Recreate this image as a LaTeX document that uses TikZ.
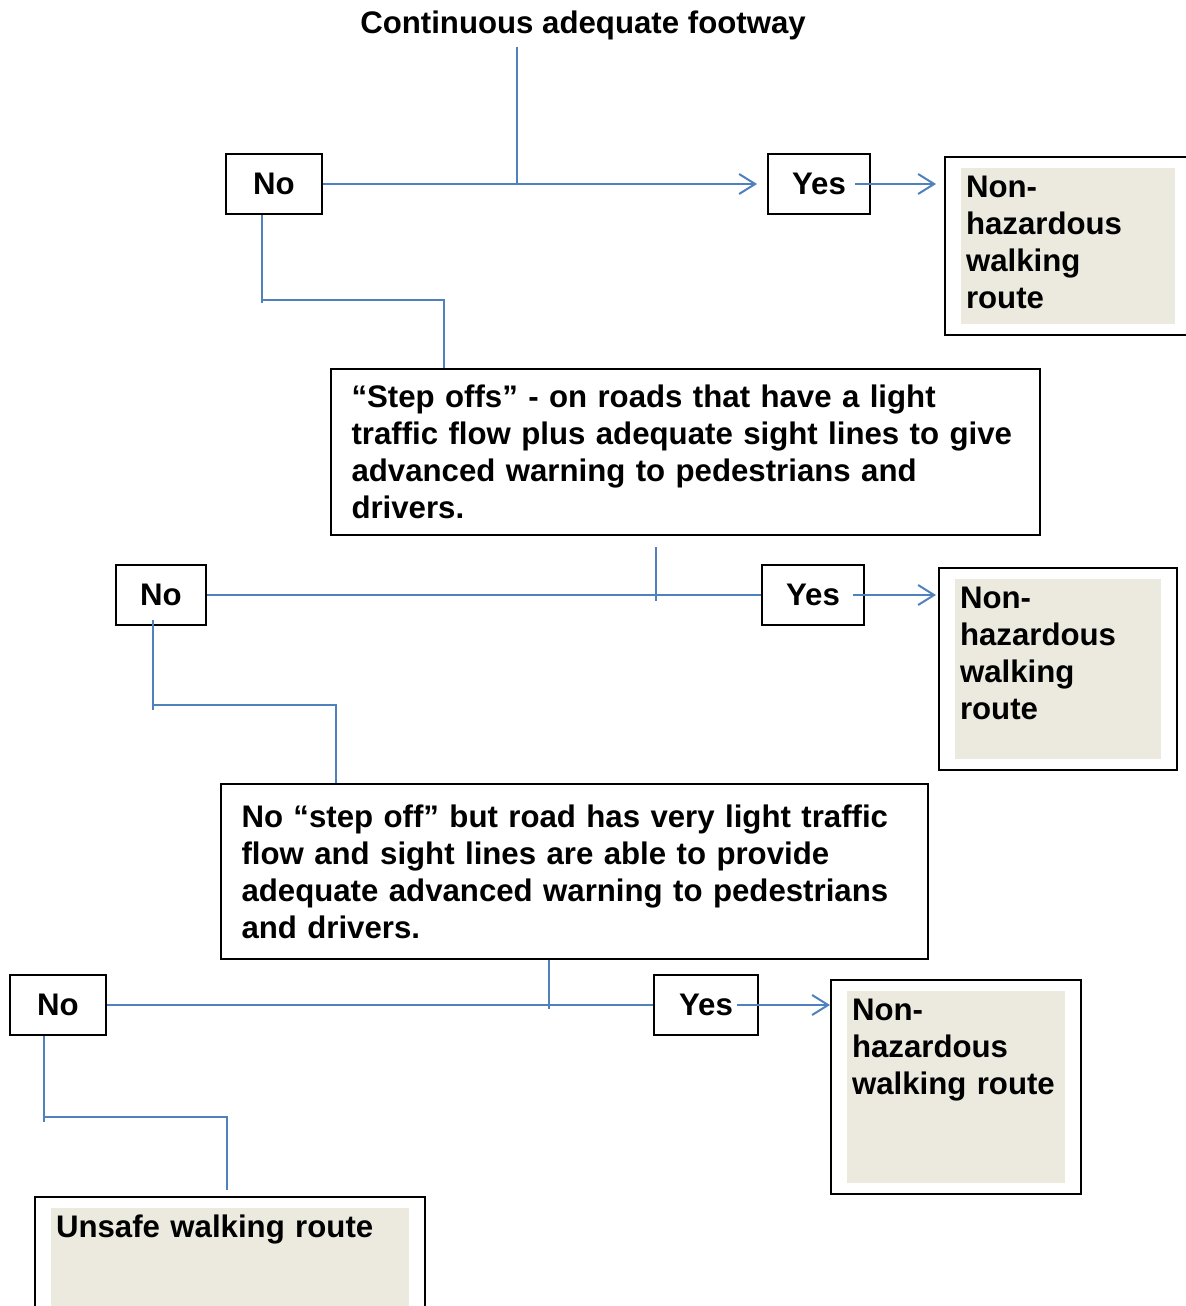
\documentclass[tikz,border=0pt]{standalone}
\usepackage{fontspec}
\setmainfont{Liberation Sans}
\usetikzlibrary{arrows.meta}
\definecolor{linkblue}{HTML}{4F81BD}
\definecolor{paper}{HTML}{ECE9DF}

\tikzset{
    flow/.style={draw=linkblue, line width=1pt},
    lead/.style={flow, -{Straight Barb[length=8pt,width=10pt]}},
    answer/.style={draw, line width=1pt, minimum height=30pt, inner sep=0pt},
    question/.style={draw, line width=1pt, anchor=north west, align=left, inner xsep=10.25pt},
    outcome/.style={draw, line width=1pt, anchor=north west, align=left,
        inner xsep=10.5pt, inner ysep=8pt, text height=12pt,
        path picture={\fill[paper] ([shift={(8pt,-5.5pt)}]path picture bounding box.north west)
            rectangle ([shift={(-8pt,5.5pt)}]path picture bounding box.south east);}},
}

\begin{document}
\begin{tikzpicture}[x=0.5pt, y=-0.5pt, font=\fontsize{15.6}{18.5}\selectfont\bfseries]
        \useasboundingbox (0,0) rectangle (1185,1306);

        \node (title) at (583,25) {Continuous adequate footway};

        % footway
        \node[answer, minimum width=48pt] (no1) at (274,184) {No};
        \node[answer, minimum width=51pt] (yes1) at (819,184) {Yes};
        \node[outcome, text width=102pt, text depth=61pt] (safe1) at (944,156) {Non-\\hazardous\\walking\\route};

        \coordinate (j1) at (517,184);
        \draw[flow] (title.south -| j1) -- (j1);
        \draw[lead, shorten >=5pt] (no1.east) -- (yes1.west);
        \draw[lead, shorten >=4pt] ([xshift=-8pt]yes1.east) -- (safe1.west |- yes1.east);

        % step offs
        \node[question, text width=334pt, minimum height=83pt] (q2) at (330,368) {“Step offs” - on roads that have a light\\traffic flow plus adequate sight lines to give\\advanced warning to pedestrians and\\drivers.};

        \coordinate (k1) at (262,300);
        \coordinate (e1) at (444,300);
        \draw[flow] (no1.south -| k1) -- ([yshift=-1.5pt]k1);
        \draw[flow] (k1) -- (e1) -- (e1 |- q2.north);

        \node[answer, minimum width=45pt] (no2) at (161,595) {No};
        \node[answer, minimum width=51pt] (yes2) at (813,595) {Yes};
        \node[outcome, text width=98pt, text depth=73pt] (safe2) at (938,567) {Non-\\hazardous\\walking\\route};

        \coordinate (j2) at (656,595);
        \draw[flow] ([yshift=-5.5pt]q2.south -| j2) -- ([yshift=-3pt]j2);
        \draw[flow] (no2.east) -- (yes2.west);
        \draw[lead, shorten >=1pt] ([xshift=-6pt]yes2.east) -- (safe2.west |- yes2.east);

        % no step off
        \node[question, text width=333pt, minimum height=87.5pt] (q3) at (220,783) {No “step off” but road has very light traffic\\flow and sight lines are able to provide\\adequate advanced warning to pedestrians\\and drivers.};

        \coordinate (k2) at (153,705);
        \coordinate (e2) at (336,705);
        \draw[flow] ([yshift=3pt]no2.south -| k2) -- ([yshift=-2.5pt]k2);
        \draw[flow] (k2) -- (e2) -- (e2 |- q3.north);

        \node[answer, minimum width=48pt] (no3) at (58,1005) {No};
        \node[answer, minimum width=52pt] (yes3) at (706,1005) {Yes};
        \node[outcome, text width=104pt, text depth=79pt] (safe3) at (830,979) {Non-\\hazardous\\walking route};
        \node[outcome, text width=174pt, text depth=34pt] (unsafe) at (34,1196) {Unsafe walking route};

        \coordinate (j3) at (549,1005);
        \draw[flow] (q3.south -| j3) -- ([yshift=-2pt]j3);
        \draw[flow] (no3.east) -- (yes3.west);
        \draw[lead] ([xshift=-11pt]yes3.east) -- (safe3.west |- yes3.east);

        \coordinate (k3) at (44,1117);
        \coordinate (e3) at (227,1117);
        \draw[flow] (no3.south -| k3) -- ([yshift=-2.5pt]k3);
        \draw[flow, shorten >=3pt] (k3) -- (e3) -- (e3 |- unsafe.north);

    \end{tikzpicture}
\end{document}
